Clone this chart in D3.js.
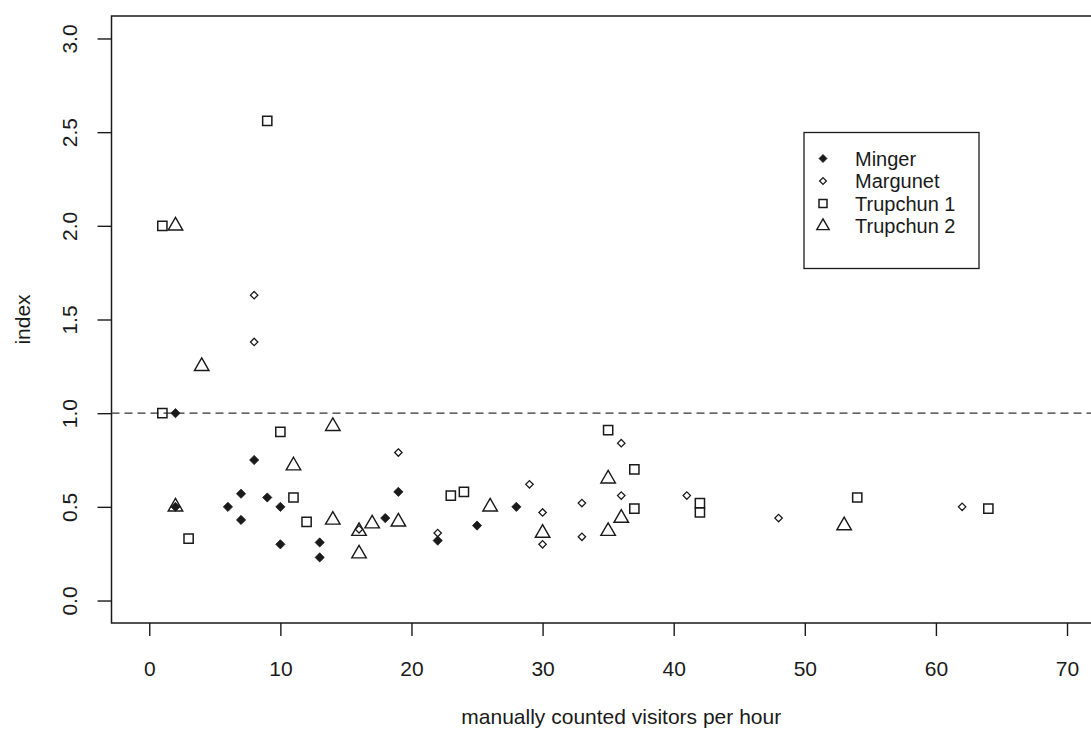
<!DOCTYPE html>
<html>
<head>
<meta charset="utf-8">
<script src="https://cdn.jsdelivr.net/npm/d3@7"></script>
<style>
  html, body { margin: 0; padding: 0; background: #ffffff; }
  svg { display: block; }
  text { font-family: "Liberation Sans", Arial, sans-serif; fill: #1a1a1a; }
</style>
</head>
<body>
<svg id="chart" width="1091" height="731"></svg>
<script>
// ---- data ----
const mingerX   = [2, 2, 6, 7, 7, 8, 9, 10, 10, 13, 13, 18, 19, 22, 25, 28];
const mingerY   = [1.00, 0.50, 0.50, 0.57, 0.43, 0.75, 0.55, 0.50, 0.30, 0.31, 0.23, 0.44, 0.58, 0.32, 0.40, 0.50];

const margunetX = [8, 8, 16, 19, 22, 29, 30, 30, 33, 33, 36, 36, 41, 48, 62];
const margunetY = [1.63, 1.38, 0.38, 0.79, 0.36, 0.62, 0.47, 0.30, 0.52, 0.34, 0.84, 0.56, 0.56, 0.44, 0.50];

const trup1X    = [1, 1, 3, 9, 10, 11, 12, 23, 24, 35, 37, 37, 42, 42, 54, 64];
const trup1Y    = [2.00, 1.00, 0.33, 2.56, 0.90, 0.55, 0.42, 0.56, 0.58, 0.91, 0.70, 0.49, 0.52, 0.47, 0.55, 0.49];

const trup2X    = [2, 2, 4, 11, 14, 14, 16, 16, 17, 19, 26, 30, 35, 35, 36, 53];
const trup2Y    = [2.00, 0.50, 1.25, 0.72, 0.93, 0.43, 0.37, 0.25, 0.41, 0.42, 0.50, 0.36, 0.65, 0.37, 0.44, 0.40];

const seriesNames = ["Minger", "Margunet", "Trupchun 1", "Trupchun 2"];
const xTicks = [0, 10, 20, 30, 40, 50, 60, 70];
const yTicks = [0.0, 0.5, 1.0, 1.5, 2.0, 2.5, 3.0];
const yTickLabels = ["0.0", "0.5", "1.0", "1.5", "2.0", "2.5", "3.0"];
const refLine = 1.0;
const xLabel = "manually counted visitors per hour";
const yLabel = "index";

// ---- layout ----
const svg = d3.select("#chart");
const pLeft = 111.5, pRight = 1131, pTop = 16, pBottom = 623;
const x = d3.scaleLinear().domain([-2.88, 74.88]).range([pLeft, pRight]);
const y = d3.scaleLinear().domain([-0.12, 3.12]).range([pBottom, pTop]);
const ink = "#1a1a1a";
const fs = 21;
const legendFs = 20;

// ---- symbol paths (R pch look-alikes) ----
function diamond(r) { return `M0,${-r}L${r},0L0,${r}L${-r},0Z`; }
function square(h) { return `M${-h},${-h}H${h}V${h}H${-h}Z`; }
function triangle(s) {
  const r = 1.555 * s, xc = 1.347 * s, yc = 0.778 * s;
  return `M0,${-r}L${xc},${yc}L${-xc},${yc}Z`;
}

const series = [
  { xs: mingerX,   ys: mingerY,   path: diamond(4.6),  fill: ink,    sw: 0.8, lpath: diamond(4.0) },
  { xs: margunetX, ys: margunetY, path: diamond(3.7),  fill: "none", sw: 1.3, lpath: diamond(3.4) },
  { xs: trup1X,    ys: trup1Y,    path: square(4.6),   fill: "none", sw: 1.5, lpath: square(4.0) },
  { xs: trup2X,    ys: trup2Y,    path: triangle(5.4), fill: "none", sw: 1.4, lpath: triangle(4.6) }
];

// ---- axes ----
const xAxis = d3.axisBottom(x).tickValues(xTicks).tickSize(13).tickFormat(d3.format("d"));
const gx = svg.append("g").attr("transform", `translate(0,${pBottom})`).call(xAxis);
gx.select(".domain").remove();
gx.selectAll(".tick line").attr("stroke", ink).attr("stroke-width", 1.4);
gx.selectAll(".tick text").attr("font-size", fs).attr("fill", ink)
  .attr("font-family", '"Liberation Sans", Arial, sans-serif')
  .attr("y", 52.5).attr("dy", null);

const yAxis = d3.axisLeft(y).tickValues(yTicks).tickSize(14).tickFormat((d, i) => yTickLabels[i]);
const gy = svg.append("g").attr("transform", `translate(${pLeft},0)`).call(yAxis);
gy.select(".domain").remove();
gy.selectAll(".tick line").attr("stroke", ink).attr("stroke-width", 1.4);
gy.selectAll(".tick text")
  .attr("font-size", fs).attr("fill", ink)
  .attr("font-family", '"Liberation Sans", Arial, sans-serif')
  .attr("x", null).attr("dy", null)
  .attr("text-anchor", "middle")
  .attr("transform", `translate(-34.5,0) rotate(-90)`);

// ---- plot box ----
svg.append("rect")
  .attr("x", pLeft).attr("y", pTop)
  .attr("width", pRight - pLeft).attr("height", pBottom - pTop)
  .attr("fill", "none").attr("stroke", ink).attr("stroke-width", 1.5);

// ---- reference line ----
svg.append("line")
  .attr("x1", pLeft).attr("x2", pRight)
  .attr("y1", y(refLine)).attr("y2", y(refLine))
  .attr("stroke", "#333").attr("stroke-width", 1.3)
  .attr("stroke-dasharray", "8,5");

// ---- points ----
series.forEach(s => {
  svg.append("g").selectAll("path")
    .data(s.xs.map((v, i) => [v, s.ys[i]]))
    .join("path")
    .attr("d", s.path)
    .attr("transform", d => `translate(${x(d[0])},${y(d[1])})`)
    .attr("fill", s.fill)
    .attr("stroke", ink)
    .attr("stroke-width", s.sw);
});

// ---- axis titles ----
svg.append("text")
  .attr("x", (pLeft + pRight) / 2).attr("y", 724)
  .attr("text-anchor", "middle").attr("font-size", fs)
  .text(xLabel);
svg.append("text")
  .attr("transform", `translate(30,${(pTop + pBottom) / 2}) rotate(-90)`)
  .attr("text-anchor", "middle").attr("font-size", fs)
  .text(yLabel);

// ---- legend ----
const lg = svg.append("g");
lg.append("rect")
  .attr("x", 804).attr("y", 132.5).attr("width", 175).attr("height", 136)
  .attr("fill", "#fff").attr("stroke", ink).attr("stroke-width", 1.3);
const rowY = d3.scaleLinear().domain([0, 3]).range([158.5, 226]);
series.forEach((s, i) => {
  lg.append("path")
    .attr("d", s.lpath)
    .attr("transform", `translate(823,${rowY(i)})`)
    .attr("fill", s.fill).attr("stroke", ink).attr("stroke-width", s.sw);
  lg.append("text")
    .attr("x", 855).attr("y", rowY(i) + 7)
    .attr("font-size", legendFs)
    .text(seriesNames[i]);
});
</script>
</body>
</html>
